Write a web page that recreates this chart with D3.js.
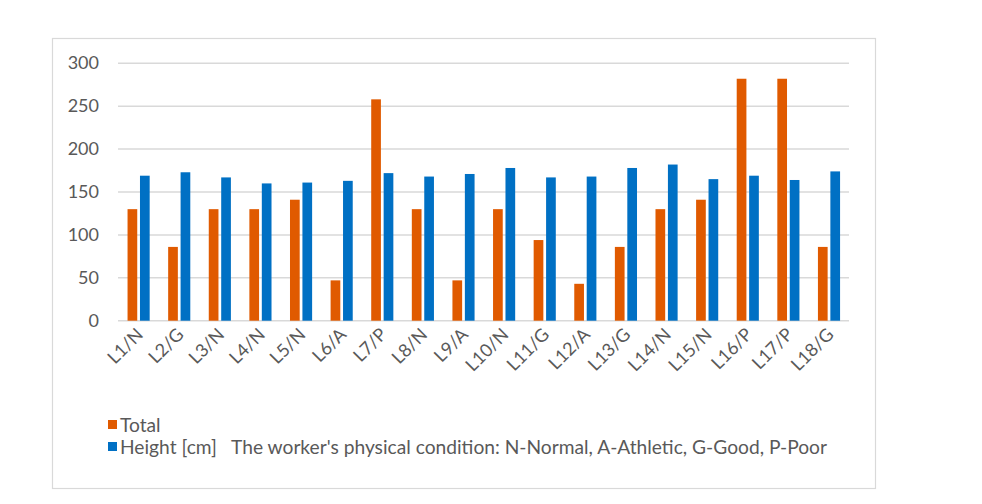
<!DOCTYPE html>
<html>
<head>
<meta charset="utf-8">
<script src="https://cdn.jsdelivr.net/npm/d3@7"></script>
<style>
  body { margin: 0; background: #fff; }
  svg { display: block; }
</style>
</head>
<body>
<script>
const W = 982, H = 504;

const categories = ["L1/N","L2/G","L3/N","L4/N","L5/N","L6/A","L7/P","L8/N","L9/A",
  "L10/N","L11/G","L12/A","L13/G","L14/N","L15/N","L16/P","L17/P","L18/G"];
const total  = [130, 86, 130, 130, 141, 47, 258, 130, 47, 130, 94, 43, 86, 130, 141, 282, 282, 86];
const height = [169, 173, 167, 160, 161, 163, 172, 168, 171, 178, 167, 168, 178, 182, 165, 169, 164, 174];
const yTicks = [0, 50, 100, 150, 200, 250, 300];
const seriesNames = ["Total", "Height [cm]"];
const legendNote = "The worker's physical condition: N-Normal, A-Athletic, G-Good, P-Poor";

const colors = ["#E05A00", "#0070C4"];
const font = "Lato, 'Open Sans', sans-serif";
const textCol = "#595959";

const svg = d3.select("body").append("svg").attr("width", W).attr("height", H);

// chart frame
svg.append("rect")
  .attr("x", 52.5).attr("y", 38.5).attr("width", 823).attr("height", 450)
  .attr("fill", "#fff").attr("stroke", "#d9d9d9").attr("stroke-width", 1.2);

const plotL = 118, plotR = 849, plotT = 63.3, plotB = 320.7;

const x0 = d3.scaleBand().domain(categories).range([plotL, plotR]).padding(0);
const x1 = d3.scaleBand().domain([0, 1])
  .range([x0.bandwidth() * 0.235, x0.bandwidth() * 0.78]).paddingInner(0.22);
const y = d3.scaleLinear().domain([0, 300]).range([plotB, plotT]);

// grid lines
svg.append("g").selectAll("line")
  .data(yTicks)
  .join("line")
  .attr("x1", plotL).attr("x2", plotR)
  .attr("y1", d => y(d)).attr("y2", d => y(d))
  .attr("stroke", "#d9d9d9").attr("stroke-width", 1.5);

// y labels
svg.append("g").selectAll("text")
  .data(yTicks)
  .join("text")
  .attr("x", 99).attr("y", d => y(d) + 6)
  .attr("text-anchor", "end")
  .attr("font-family", font).attr("font-size", 18).attr("fill", textCol)
  .text(d => d);

// bars
const rows = categories.map((c, i) => ({ c, vals: [total[i], height[i]] }));
const groups = svg.append("g").selectAll("g")
  .data(rows)
  .join("g")
  .attr("transform", d => `translate(${x0(d.c)},0)`);

groups.selectAll("rect")
  .data(d => d.vals.map((v, k) => ({ v, k })))
  .join("rect")
  .attr("x", d => x1(d.k))
  .attr("width", x1.bandwidth())
  .attr("y", d => y(d.v))
  .attr("height", d => y(0) - y(d.v))
  .attr("fill", d => colors[d.k]);

// x labels, rotated
svg.append("g").selectAll("text")
  .data(categories)
  .join("text")
  .attr("transform", d => `translate(${x0(d) + x0.bandwidth() / 2 + 6},${plotB + 15}) rotate(-45)`)
  .attr("text-anchor", "end")
  .attr("font-family", font).attr("font-size", 18).attr("fill", textCol)
  .text(d => d);

// legend
const leg = svg.append("g");
seriesNames.forEach((name, i) => {
  const ly = 420 + i * 22;
  leg.append("rect")
    .attr("x", 108).attr("y", ly).attr("width", 9).attr("height", 9)
    .attr("fill", colors[i]);
  leg.append("text")
    .attr("x", 120).attr("y", ly + 12)
    .attr("font-family", font).attr("font-size", 19.2).attr("fill", textCol)
    .style("white-space", "pre")
    .text(i === 1 ? name + "   " + legendNote : name);
});
</script>
</body>
</html>
